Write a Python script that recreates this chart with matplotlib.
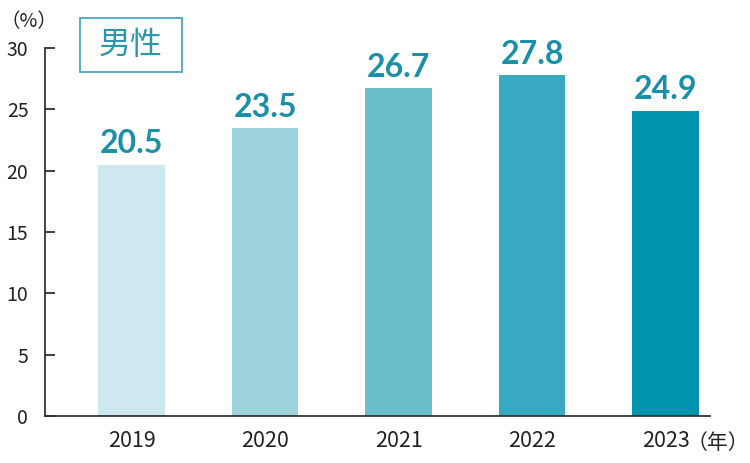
import matplotlib.pyplot as plt
from matplotlib.patches import Rectangle

plt.rcParams['font.family'] = ['Noto Sans CJK JP', 'DejaVu Sans']

years = ['2019', '2020', '2021', '2022', '2023']
values = [20.5, 23.5, 26.7, 27.8, 24.9]
colours = ['#cde8ef', '#9dd3dd', '#6bbfcd', '#37a9c0', '#0093ae']
label_colour = '#1a8fa8'

fig = plt.figure(figsize=(7.5, 4.63), dpi=100)
ax = fig.add_axes([0.06, 0.1015, 0.8867, 0.7948])

x = range(len(years))
ax.bar(x, values, width=0.5, color=colours)
for i, v in enumerate(values):
    ax.text(i, v + 0.5, f'{v:.1f}', ha='center', va='bottom',
            fontsize=23, fontweight='bold', color=label_colour, family='Lato')

ax.set_xlim(-0.648, 4.333)
ax.set_ylim(0, 30)
ax.set_yticks([0, 5, 10, 15, 20, 25, 30])
ax.set_xticks(list(x))
ax.set_xticklabels(years)
ax.tick_params(axis='y', direction='in', length=7, width=1.3, colors='#333333',
               labelsize=14, labelcolor='#222222', pad=12)
ax.tick_params(axis='x', length=0, labelsize=15.5, labelcolor='#222222', pad=10)
for side in ['top', 'right']:
    ax.spines[side].set_visible(False)
for side in ['left', 'bottom']:
    ax.spines[side].set_color('#333333')
    ax.spines[side].set_linewidth(1.3)

fig.text(0.0, 0.953, '（%）', fontsize=14, color='#222222', va='center')
fig.text(0.999, 0.043, '（年）', fontsize=15, color='#222222', va='center', ha='right')

box = Rectangle((80 / 750, 1 - 72 / 463), 102 / 750, 54 / 463, transform=fig.transFigure,
                fill=False, edgecolor='#4aa9bd', linewidth=1.3)
fig.patches.append(box)
fig.text(131 / 750, 1 - 45 / 463, '男性', fontsize=23, color='#2a97ad',
         ha='center', va='center')

fig.savefig('out.png', dpi=100)
